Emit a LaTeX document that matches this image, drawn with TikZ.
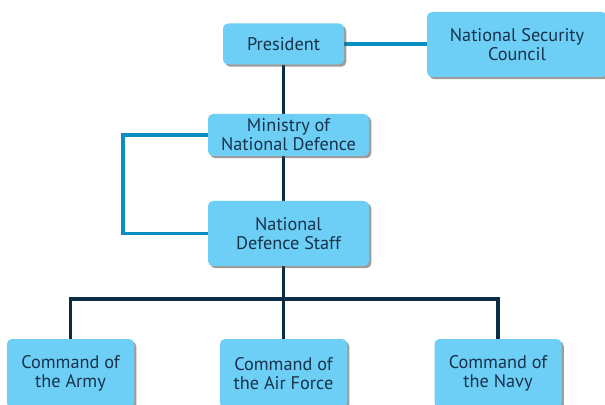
\documentclass[tikz,border=0pt]{standalone}
\usepackage{fontspec}
\setmainfont{PT Sans}
\usetikzlibrary{shadows,backgrounds}
\definecolor{boxblue}{HTML}{6DCFF6}
\definecolor{darkline}{HTML}{0B2E46}
\definecolor{lightline}{HTML}{0A8EC2}
\definecolor{textcol}{HTML}{17324A}
\tikzset{
    unit/.style={draw=none, fill=boxblue, rounded corners=3.5pt, align=center,
        text=textcol, font=\fontsize{13}{13.5}\selectfont, inner sep=2pt,
        drop shadow={shadow xshift=1.6pt, shadow yshift=-1.6pt, opacity=0.55, fill=black!70}},
    mainline/.style={darkline, line width=2.2pt},
    sideline/.style={lightline, line width=2.2pt}
}
\begin{document}
\begin{tikzpicture}
    \useasboundingbox (0,0) rectangle (15.125,10.1);
    \clip (0,0) rectangle (15.125,10.1);
    % Draw units
    \node [unit, minimum width=3.025cm, minimum height=1.025cm] (pres) at (7.0875,9.0) {President};
    \node [unit, minimum width=4.5cm, minimum height=1.625cm] (nsc) at (12.925,8.9875) {National Security\\Council};
    \node [unit, minimum width=4.025cm, minimum height=1.05cm] (mind) at (7.2125,6.725) {Ministry of\\National Defence};
    \node [unit, minimum width=4.025cm, minimum height=1.625cm] (nds) at (7.2125,4.2625) {National\\Defence Staff};
    \node [unit, minimum width=3.175cm, minimum height=1.725cm] (army) at (1.7625,0.7625) {Command of\\the Army};
    \node [unit, minimum width=3.175cm, minimum height=1.725cm] (air) at (7.0875,0.7625) {Command of\\the Air Force};
    \node [unit, minimum width=3.175cm, minimum height=1.725cm] (navy) at (12.45,0.7625) {Command of\\the Navy};
    \coordinate (bus) at (7.0875,2.625);
    \coordinate (bend) at (3.075,6.725);
    % Draw connectors
    \begin{scope}[on background layer]
        \draw [mainline] (pres.south) -- (air.north);
        \draw [mainline] (army.north) |- (bus) -| (navy.north);
        \draw [sideline] (pres.east) -- (pres.east -| nsc.west);
        \draw [sideline] (mind.west) -- (bend) |- (nds.west);
    \end{scope}
\end{tikzpicture}
\end{document}
